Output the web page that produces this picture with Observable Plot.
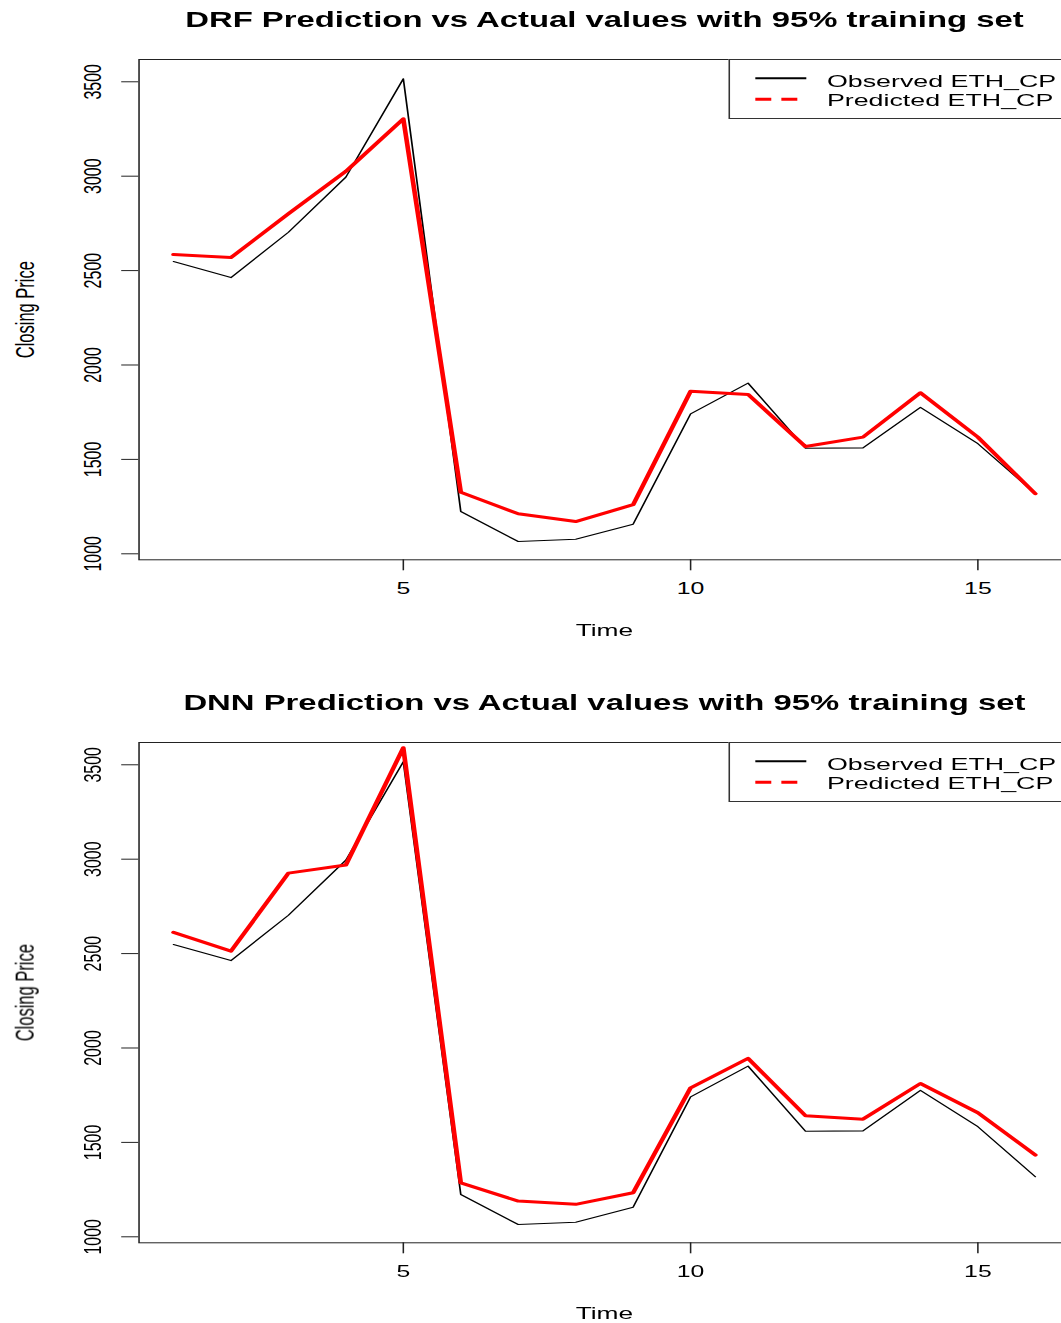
<!DOCTYPE html>
<html><head><meta charset="utf-8">
<script src="https://cdn.jsdelivr.net/npm/d3@7"></script>
<script src="https://cdn.jsdelivr.net/npm/@observablehq/plot@0.6"></script>
<style>
body{margin:0;background:#fff;}
#wrap{position:relative;width:1061px;height:1323px;overflow:hidden;background:#fff;}
#inner{position:absolute;left:0;top:0;width:700px;height:1323px;transform:scaleX(1.55);transform-origin:0 0;}
.panel{position:absolute;left:0;width:700px;height:640px;}
.legend{position:absolute;left:469.5px;top:59px;width:220.2px;height:59.5px;border:1px solid #333;box-sizing:border-box;background:#fff;}
.legend svg{position:absolute;left:0;top:0;overflow:visible;}
</style>
</head><body><div id="wrap"><div id="inner"></div></div>
<script>
// ---- data ----
const time = [1, 2, 3, 4, 5, 6, 7, 8, 9, 10, 11, 12, 13, 14, 15, 16];
const observed = [2548, 2463, 2703, 2995, 3516, 1224, 1065, 1077, 1157, 1741, 1904, 1559, 1561, 1776, 1583, 1318];
const predictedDRF = [2585, 2569, 2801, 3026, 3304, 1326, 1212, 1171, 1260, 1861, 1844, 1568, 1618, 1853, 1618, 1318];
const predictedDNN = [2612, 2513, 2926, 2969, 3590, 1286, 1189, 1172, 1233, 1789, 1945, 1641, 1623, 1812, 1657, 1433];
const xTicks = [5, 10, 15];
const yTicks = [1000, 1500, 2000, 2500, 3000, 3500];
const titles = [
  "DRF Prediction vs Actual values with 95% training set",
  "DNN Prediction vs Actual values with 95% training set"
];
const legendLabels = ["Observed ETH_CP", "Predicted ETH_CP"];
const xLabel = "Time";
const yLabel = "Closing Price";

const xDomain = [0.4, 16.6];
const yDomain = [968.2, 3618];
const FONT = "'Liberation Sans', Arial, Helvetica, sans-serif";

function panel(title, predicted, top) {
  const div = document.createElement("div");
  div.className = "panel";
  div.style.top = top + "px";
  const chart = Plot.plot({
    width: 700, height: 640,
    marginLeft: 89.2, marginRight: 10.3, marginTop: 59, marginBottom: 80.7,
    style: {fontFamily: FONT, fontSize: "16px", color: "#000", background: "#fff", overflow: "visible"},
    x: {domain: xDomain},
    y: {domain: yDomain},
    marks: [
      Plot.frame({stroke: "#222", strokeWidth: 1}),
      Plot.axisX({ticks: xTicks, tickSize: 11, tickPadding: 12, fontSize: 16, label: null, stroke: "#222", tickFormat: d => String(d)}),
      Plot.axisY({ticks: yTicks, tickSize: 11, tickPadding: 13.7, tickRotate: -90, fontSize: 16, label: null, stroke: "#222", tickFormat: d => String(d)}),
      Plot.line(time, {x: d => d, y: (d, i) => observed[i], stroke: "#000", strokeWidth: 1.1}),
      Plot.line(time, {x: d => d, y: (d, i) => predicted[i], stroke: "#ff0000", strokeWidth: 3}),
      Plot.text([title], {frameAnchor: "top", dy: -32.3, lineAnchor: "bottom", fontSize: 21.2, fontWeight: "bold", fill: "#000"}),
      Plot.text([xLabel], {frameAnchor: "bottom", dy: 75.7, lineAnchor: "bottom", fontSize: 17, fill: "#000"}),
      Plot.text([yLabel], {frameAnchor: "left", dx: -67.7, rotate: -90, textAnchor: "middle", lineAnchor: "bottom", fontSize: 16.5, fill: "#000"})
    ]
  });
  div.appendChild(chart);

  // legend
  const lg = document.createElement("div");
  lg.className = "legend";
  const svg = d3.create("svg").attr("width", 220).attr("height", 59);
  svg.append("line").attr("x1", 16.3).attr("x2", 49.2).attr("y1", 18.3).attr("y2", 18.3)
    .attr("stroke", "#000").attr("stroke-width", 2);
  svg.append("line").attr("x1", 16.3).attr("x2", 49.2).attr("y1", 39.3).attr("y2", 39.3)
    .attr("stroke", "#ff0000").attr("stroke-width", 3).attr("stroke-dasharray", "10.3 6.5");
  svg.selectAll("text.lab").data(legendLabels).join("text")
    .attr("class", "lab")
    .attr("x", 62.5)
    .attr("y", (d, i) => i === 0 ? 26.7 : 46)
    .attr("font-family", FONT).attr("font-size", 17.3).attr("fill", "#000")
    .text(d => d);
  lg.appendChild(svg.node());
  div.appendChild(lg);
  document.getElementById("inner").appendChild(div);
}

panel(titles[0], predictedDRF, 0);
panel(titles[1], predictedDNN, 683.4);
</script>
</body></html>
